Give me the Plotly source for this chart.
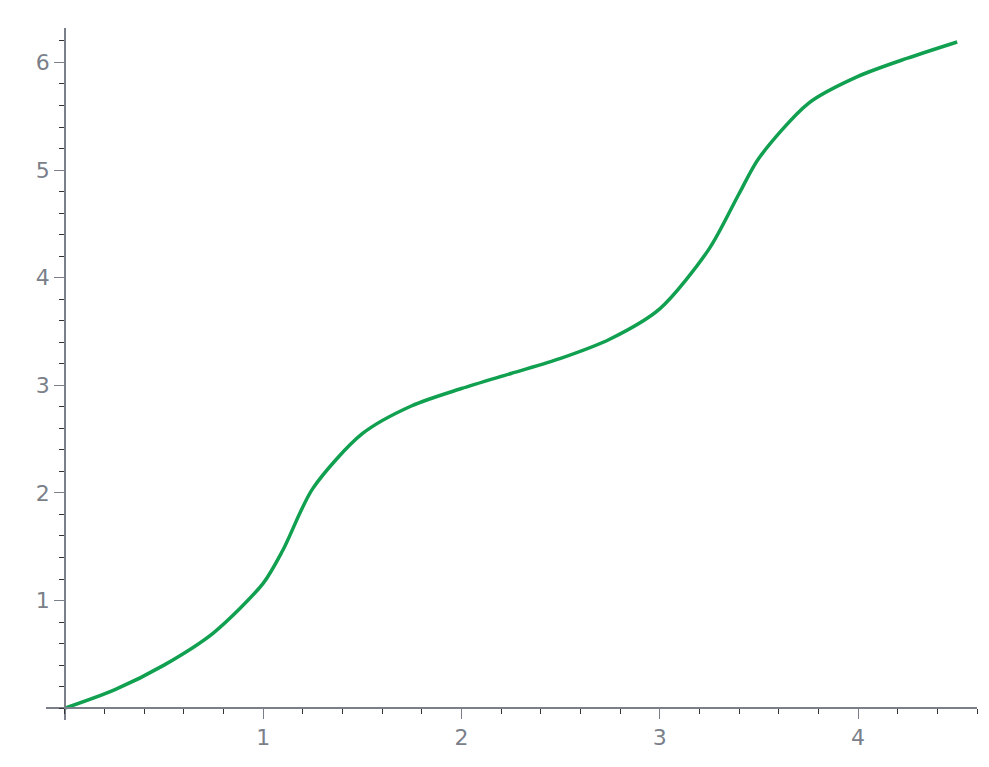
import plotly.graph_objects as go

x_vals = [0, 0.25, 0.5, 0.75, 1.0, 1.1, 1.25, 1.5, 1.75, 2.0, 2.25, 2.5, 2.75, 3.0, 3.25, 3.4, 3.5, 3.75, 4.0, 4.25, 4.5]
y_vals = [0, 0.17, 0.40, 0.70, 1.16, 1.47, 2.04, 2.55, 2.81, 2.97, 3.11, 3.25, 3.43, 3.71, 4.27, 4.78, 5.11, 5.62, 5.87, 6.04, 6.19]
x_ticks = [1, 2, 3, 4]
y_ticks = [1, 2, 3, 4, 5, 6]

xr = [-0.095, 4.6]
yr = [-0.11, 6.32]

fig = go.Figure(go.Scatter(x=x_vals, y=y_vals, mode="lines",
                           line=dict(color="#10a050", width=3.5, shape="spline", smoothing=0.8)))
gray = "#7a7f8a"
fig.update_layout(
    width=989, height=767, plot_bgcolor="white", paper_bgcolor="white",
    margin=dict(l=38, r=20, t=20, b=55), showlegend=False,
    xaxis=dict(range=xr, showgrid=False, zeroline=False, showline=True, linecolor=gray, linewidth=1.5,
               anchor="free", position=(0 - yr[0]) / (yr[1] - yr[0]),
               tickvals=x_ticks, ticks="outside", ticklen=10, tickcolor=gray,
               tickfont=dict(size=22, color=gray, family="DejaVu Sans"),
               minor=dict(dtick=0.2, tick0=0, ticks="outside", ticklen=5, tickcolor="#333")),
    yaxis=dict(range=yr, showgrid=False, zeroline=False, showline=True, linecolor=gray, linewidth=1.5,
               anchor="free", position=(0 - xr[0]) / (xr[1] - xr[0]),
               tickvals=y_ticks, ticks="outside", ticklen=10, tickcolor=gray,
               tickfont=dict(size=22, color=gray, family="DejaVu Sans"),
               minor=dict(dtick=0.2, tick0=0, ticks="outside", ticklen=5, tickcolor="#333")),
)
fig.write_html("out.html")
